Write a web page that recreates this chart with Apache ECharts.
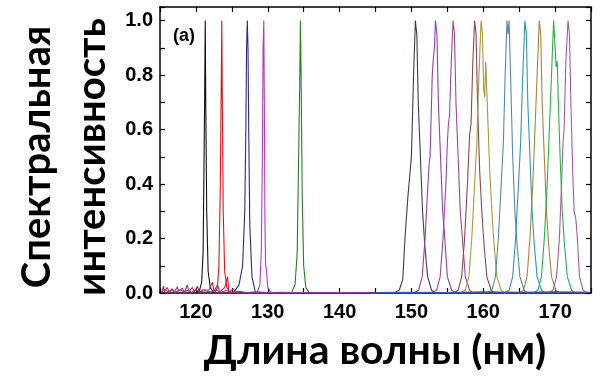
<!DOCTYPE html>
<html>
<head>
<meta charset="utf-8">
<script src="https://cdn.jsdelivr.net/npm/echarts@6/dist/echarts.min.js"></script>
<style>
html,body{margin:0;padding:0;background:#fff;}
#chart{width:600px;height:390px;}
</style>
</head>
<body>
<div id="chart"></div>
<script>
// ---- data (wavelength nm, normalized intensity) ----
const xTitle = 'Длина волны (нм)';
const yTitleLine1 = 'Спектральная';
const yTitleLine2 = 'интенсивность';
const panelLabel = '(a)';
const xTickLabels = [120, 130, 140, 150, 160, 170];

const peak121 = [[120.0,0],[120.5,0.01],[120.8,0.04],[121.0,0.15],[121.1,0.4],[121.2,0.67],[121.3,1.0],[121.38,0.67],[121.5,0.3],[121.7,0.08],[122.0,0.02],[122.5,0]];
const peak123 = [[122.6,0],[123.0,0.02],[123.2,0.1],[123.4,0.4],[123.5,0.7],[123.6,1.0],[123.68,0.7],[123.8,0.3],[124.0,0.08],[124.3,0.02],[124.8,0]];
const peak127 = [[125.2,0],[126.0,0.03],[126.5,0.1],[126.8,0.3],[126.95,0.6],[127.05,0.9],[127.15,1.0],[127.25,0.9],[127.35,0.6],[127.5,0.25],[127.8,0.06],[128.3,0]];
const peak129 = [[128.5,0],[128.9,0.03],[129.1,0.15],[129.25,0.5],[129.35,0.9],[129.45,1.0],[129.55,0.6],[129.6,0.28],[129.7,0.1],[129.8,0.09],[130.0,0.02],[130.5,0]];
const peak134 = [[133.3,0],[133.8,0.03],[134.1,0.15],[134.3,0.5],[134.45,0.77],[134.55,1.0],[134.65,0.77],[134.8,0.35],[135.0,0.1],[135.3,0.02],[135.8,0]];

const peak150 = [[147.5,0],[148.3,0.01],[148.8,0.05],[149.1,0.2],[149.5,0.35],[150.0,0.5],[150.3,0.8],[150.55,1.0],[150.75,0.95],[150.95,0.7],[151.25,0.5],[151.55,0.3],[151.85,0.18],[152.25,0.06],[152.8,0.01],[153.3,0]];
const peak153 = [[150.3,0],[151.0,0.01],[151.5,0.06],[151.9,0.2],[152.2,0.35],[152.45,0.47],[152.6,0.5],[152.9,0.8],[153.05,0.86],[153.2,0.9],[153.35,1.0],[153.55,0.95],[153.75,0.7],[154.05,0.5],[154.35,0.3],[154.65,0.2],[155.0,0.06],[155.6,0.01],[156.2,0]];
const peak155 = [[152.8,0],[153.5,0.01],[154.0,0.06],[154.4,0.2],[154.8,0.4],[155.0,0.55],[155.15,0.62],[155.3,0.65],[155.55,0.85],[155.8,1.0],[156.0,0.95],[156.2,0.7],[156.5,0.5],[156.8,0.3],[157.1,0.2],[157.5,0.06],[158.1,0.01],[158.6,0]];
const peak158 = [[155.8,0],[156.5,0.01],[157.0,0.06],[157.4,0.2],[157.8,0.4],[158.1,0.58],[158.3,0.62],[158.55,0.85],[158.8,1.0],[159.0,0.95],[159.2,0.7],[159.5,0.45],[159.8,0.3],[160.1,0.18],[160.5,0.06],[161.1,0.01],[161.6,0]];
const peak159 = [[156.8,0],[157.5,0.01],[158.0,0.06],[158.4,0.2],[158.8,0.4],[159.1,0.55],[159.4,0.8],[159.7,1.0],[159.9,0.95],[160.05,0.75],[160.2,0.72],[160.35,0.85],[160.55,0.7],[160.9,0.45],[161.2,0.3],[161.5,0.18],[161.9,0.06],[162.5,0.01],[163.0,0]];
const peak163 = [[160.5,0],[161.2,0.01],[161.7,0.06],[162.1,0.2],[162.5,0.4],[162.8,0.55],[163.05,0.8],[163.3,1.0],[163.45,0.95],[163.6,1.0],[163.8,0.8],[164.1,0.5],[164.4,0.3],[164.7,0.18],[165.1,0.06],[165.7,0.01],[166.2,0]];
const peak165 = [[162.9,0],[163.6,0.01],[164.1,0.06],[164.5,0.2],[164.9,0.4],[165.2,0.55],[165.5,0.8],[165.8,1.0],[166.0,0.95],[166.2,0.7],[166.5,0.5],[166.8,0.3],[167.1,0.18],[167.5,0.06],[168.1,0.01],[168.6,0]];
const peak167 = [[164.9,0],[165.6,0.01],[166.1,0.06],[166.5,0.2],[166.9,0.4],[167.2,0.6],[167.5,0.8],[167.8,1.0],[168.0,0.95],[168.2,0.7],[168.5,0.5],[168.8,0.3],[169.1,0.18],[169.5,0.06],[170.1,0.01],[170.6,0]];
const peak169 = [[166.9,0],[167.6,0.01],[168.1,0.06],[168.5,0.2],[168.9,0.4],[169.2,0.6],[169.5,0.8],[169.8,1.0],[170.0,0.9],[170.15,0.83],[170.3,0.85],[170.45,0.7],[170.7,0.5],[171.0,0.3],[171.3,0.18],[171.7,0.06],[172.3,0.01],[172.8,0]];
const peak172 = [[169.0,0],[169.7,0.01],[170.2,0.06],[170.6,0.2],[170.9,0.4],[171.1,0.55],[171.25,0.6],[171.5,0.85],[171.8,1.0],[172.0,0.95],[172.2,0.7],[172.45,0.45],[172.65,0.3],[172.9,0.27],[173.1,0.2],[173.4,0.06],[173.9,0.01],[174.4,0]];

const noiseRed = [[115.2,0],[115.5,0.025],[115.6,0.005],[116.0,0.02],[116.3,0.003],[116.7,0.015],[117.0,0.004],[117.4,0.022],[117.6,0.006],[118.1,0.018],[118.4,0.002],[118.8,0.03],[119.0,0.005],[119.5,0.02],[119.8,0.003],[120.2,0.025],[120.5,0.004],[121.0,0.012],[121.8,0.01],[122.3,0.04],[122.5,0.005],[123.0,0.03],[123.3,0.004],[124.0,0.02],[124.4,0.06],[124.6,0.004],[125.2,0.015],[125.6,0.002],[126.0,0]];
const noiseMagenta = [[115.2,0.005],[115.7,0.012],[116.1,0.004],[116.6,0.01],[117.1,0.003],[117.8,0.012],[118.3,0.004],[118.9,0.01],[119.4,0.003],[120.0,0.012],[120.6,0.004],[121.2,0.008],[122.0,0.004],[122.8,0.01],[123.5,0.003],[124.2,0.009],[125.0,0.003],[126.0,0.006],[127.0,0.002],[128.5,0.004],[130.0,0.002],[132.0,0.003],[136.0,0.001],[140.0,0.002],[145.0,0.001]];
const baselineBlue = [[145.0,0.002],[150.0,0.003],[155.0,0.002],[160.0,0.004],[165.0,0.003],[170.0,0.004],[175.0,0.003]];

const peakList = [
  {data: peak121, color: '#111111'},
  {data: peak123, color: '#d81818'},
  {data: peak127, color: '#2a2a8a'},
  {data: peak129, color: '#b23cc0'},
  {data: peak134, color: '#2a7a2a'},
  {data: peak150, color: '#3c3c55'},
  {data: peak153, color: '#8a44b0'},
  {data: peak155, color: '#9a4a98'},
  {data: peak158, color: '#8a4a4a'},
  {data: peak159, color: '#a89a3a'},
  {data: peak163, color: '#5a88a8'},
  {data: peak165, color: '#2a9aa8'},
  {data: peak167, color: '#a8843a'},
  {data: peak169, color: '#28b04a'},
  {data: peak172, color: '#a85a9a'},
  {data: noiseRed, color: '#d02050'},
  {data: noiseMagenta, color: '#9a30c0'},
  {data: baselineBlue, color: '#3a50d0'}
];

const chart = echarts.init(document.getElementById('chart'), null, {renderer: 'canvas'});
const tickFont = 'Liberation Sans, Arial, sans-serif';

const series = peakList.map(p => ({
  type: 'line',
  data: p.data,
  showSymbol: false,
  symbol: 'none',
  silent: true,
  animation: false,
  lineStyle: {color: p.color, width: 1.1},
  xAxisIndex: 0,
  yAxisIndex: 0,
  z: 2
}));

const axisLine = {show: true, onZero: false, lineStyle: {color: '#000', width: 1.5}};

const option = {
  animation: false,
  backgroundColor: '#fff',
  grid: {left: 160, right: 9, top: 7, bottom: 97, containLabel: false},
  xAxis: [
    {
      type: 'value', min: 115, max: 175, interval: 5, position: 'bottom',
      axisLine: axisLine,
      axisTick: {show: true, inside: true, length: 5, lineStyle: {color: '#000', width: 1.2}},
      axisLabel: {
        color: '#000', fontFamily: tickFont, fontWeight: 'bold', fontSize: 20, margin: 9,
        formatter: v => (xTickLabels.indexOf(Math.round(v)) >= 0 && Math.abs(v - Math.round(v)) < 1e-6) ? String(Math.round(v)) : ''
      },
      splitLine: {show: false}
    },
    {
      type: 'value', min: 115, max: 175, interval: 5, position: 'top',
      axisLine: axisLine,
      axisTick: {show: true, inside: true, length: 5, lineStyle: {color: '#000', width: 1.2}},
      axisLabel: {show: false},
      splitLine: {show: false}
    }
  ],
  yAxis: [
    {
      type: 'value', min: 0, max: 1.05, interval: 0.1, position: 'left',
      axisLine: axisLine,
      axisTick: {show: true, inside: true, length: 5, lineStyle: {color: '#000', width: 1.2}},
      axisLabel: {
        color: '#000', fontFamily: tickFont, fontWeight: 'bold', fontSize: 20, margin: 7,
        formatter: v => {
          const k = Math.round(v * 10);
          if (Math.abs(v * 10 - k) > 1e-6 || k % 2 !== 0 || k > 10) return '';
          return (k / 10).toFixed(1);
        }
      },
      splitLine: {show: false}
    },
    {
      type: 'value', min: 0, max: 1.05, interval: 0.1, position: 'right',
      axisLine: axisLine,
      axisTick: {show: true, inside: true, length: 5, lineStyle: {color: '#000', width: 1.2}},
      axisLabel: {show: false},
      splitLine: {show: false}
    }
  ],
  series: series,
  graphic: [
    {
      type: 'text', x: 184, y: 36,
      style: {text: panelLabel, font: 'bold 18px Liberation Sans, Arial, sans-serif', fill: '#000', textAlign: 'center', textVerticalAlign: 'middle'}
    },
    {
      type: 'text', x: 375, y: 351,
      style: {text: xTitle, font: 'bold 41px Lato, "Open Sans", sans-serif', fill: '#000', textAlign: 'center', textVerticalAlign: 'middle'}
    },
    {
      type: 'text', x: 37, y: 157, rotation: Math.PI / 2,
      style: {text: yTitleLine1, font: 'bold 40px Lato, "Open Sans", sans-serif', fill: '#000', textAlign: 'center', textVerticalAlign: 'middle'}
    },
    {
      type: 'text', x: 92, y: 157, rotation: Math.PI / 2,
      style: {text: yTitleLine2, font: 'bold 40px Lato, "Open Sans", sans-serif', fill: '#000', textAlign: 'center', textVerticalAlign: 'middle'}
    }
  ]
};
chart.setOption(option);
</script>
</body>
</html>
